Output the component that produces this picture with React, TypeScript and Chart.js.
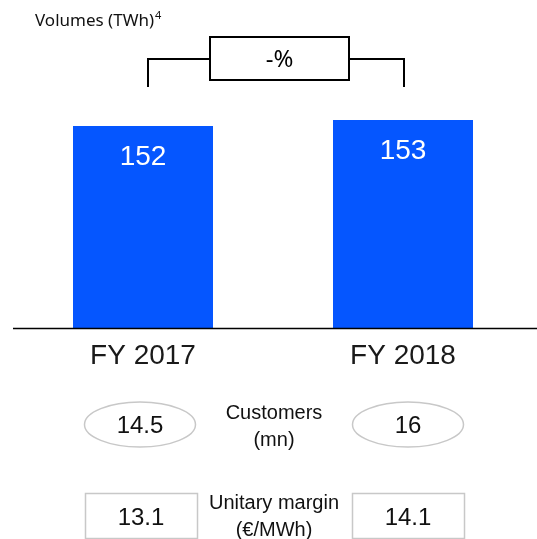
import React, { useEffect, useRef } from "react";
import { Chart, registerables } from "chart.js";

Chart.register(...registerables);

const categories = ["FY 2017", "FY 2018"];
const volumes = [152, 153];
const customers = ["14.5", "16"];
const margins = ["13.1", "14.1"];
const titleText = "Volumes (TWh)";
const titleSup = "4";
const changeLabel = "-%";
const customersLabel = ["Customers", "(mn)"];
const marginLabel = ["Unitary margin", "(€/MWh)"];

const ARIAL = '"Liberation Sans", Arial, sans-serif';
const TITLEFONT = '"Noto Sans", "Liberation Sans", sans-serif';

const overlayPlugin = {
  id: "overlay",
  afterDatasetsDraw(chart: any) {
    const ctx = chart.ctx;
    const xs = chart.scales.x;
    const meta = chart.getDatasetMeta(0);
    const c0 = xs.getPixelForValue(0);
    const c1 = xs.getPixelForValue(1);
    const base = chart.chartArea.bottom;
    ctx.save();

    // value labels inside bars
    ctx.fillStyle = "#ffffff";
    ctx.font = `28px ${ARIAL}`;
    ctx.textAlign = "center";
    ctx.textBaseline = "middle";
    meta.data.forEach((bar: any, i: number) => {
      ctx.fillText(String(volumes[i]), bar.x, bar.y + 31);
    });

    // axis line
    ctx.strokeStyle = "#000000";
    ctx.lineWidth = 1.5;
    ctx.beginPath();
    ctx.moveTo(13, base + 0.5);
    ctx.lineTo(537, base + 0.5);
    ctx.stroke();

    // category labels
    ctx.fillStyle = "#1a1a1a";
    ctx.font = `28px ${ARIAL}`;
    categories.forEach((c, i) => {
      ctx.fillText(c, xs.getPixelForValue(i), base + 28);
    });

    // title
    ctx.fillStyle = "#111111";
    ctx.textAlign = "left";
    ctx.font = `17px ${TITLEFONT}`;
    ctx.fillText(titleText, 35, 21);
    const tw = ctx.measureText(titleText).width;
    ctx.font = `11px ${TITLEFONT}`;
    ctx.fillText(titleSup, 35 + tw + 1, 16);

    // bracket
    const lx = c0 + 5;
    const rx = c1 + 1;
    const bx0 = 210, bx1 = 349, by0 = 37, by1 = 80;
    const hy = 59;
    ctx.strokeStyle = "#000000";
    ctx.lineWidth = 2;
    ctx.beginPath();
    ctx.moveTo(lx, 87);
    ctx.lineTo(lx, hy);
    ctx.lineTo(bx0, hy);
    ctx.moveTo(bx1, hy);
    ctx.lineTo(rx, hy);
    ctx.lineTo(rx, 87);
    ctx.stroke();
    ctx.fillStyle = "#ffffff";
    ctx.fillRect(bx0, by0, bx1 - bx0, by1 - by0);
    ctx.strokeRect(bx0, by0, bx1 - bx0, by1 - by0);
    ctx.fillStyle = "#000000";
    ctx.textAlign = "center";
    ctx.font = `24px ${TITLEFONT}`;
    ctx.fillText(changeLabel, (bx0 + bx1) / 2, 60);

    // customers ellipses
    const ecx = [c0 - 3, c1 + 5];
    ctx.strokeStyle = "#c8c8c8";
    ctx.lineWidth = 1.5;
    ecx.forEach((cx, i) => {
      ctx.beginPath();
      ctx.ellipse(cx, 424.5, 55.5, 22.5, 0, 0, Math.PI * 2);
      ctx.stroke();
      ctx.fillStyle = "#111111";
      ctx.font = `24px ${ARIAL}`;
      ctx.fillText(customers[i], cx, 426);
    });
    ctx.font = `20px ${ARIAL}`;
    ctx.fillText(customersLabel[0], 274, 413);
    ctx.fillText(customersLabel[1], 274, 440);

    // margin boxes
    const mbx = [[85, 197], [352, 464]];
    mbx.forEach(([x0, x1], i) => {
      ctx.strokeStyle = "#c8c8c8";
      ctx.strokeRect(x0 + 0.5, 493.5, x1 - x0, 45);
      ctx.fillStyle = "#111111";
      ctx.font = `24px ${ARIAL}`;
      ctx.fillText(margins[i], (x0 + x1) / 2, 518);
    });
    ctx.font = `20px ${ARIAL}`;
    ctx.fillText(marginLabel[0], 274, 503);
    ctx.fillText(marginLabel[1], 274, 530);

    ctx.restore();
  },
};

export default function App() {
  const ref = useRef<HTMLCanvasElement | null>(null);
  useEffect(() => {
    if (!ref.current) return;
    const chart = new Chart(ref.current, {
      type: "bar",
      data: {
        labels: categories,
        datasets: [
          {
            data: volumes,
            backgroundColor: "#0556FF",
            borderWidth: 0,
            barPercentage: 1,
            categoryPercentage: 140 / 260,
          },
        ],
      },
      options: {
        responsive: false,
        animation: false,
        layout: { padding: { left: 13, right: 4, top: 28, bottom: 211 } },
        plugins: { legend: { display: false }, tooltip: { enabled: false }, title: { display: false } },
        scales: {
          x: { display: false },
          y: { display: false, min: 118.333, max: 168.333 },
        },
      },
      plugins: [overlayPlugin],
    });
    return () => chart.destroy();
  }, []);
  return (
    <div style={{ position: "absolute", left: 0, top: 0, width: 537, height: 539, background: "#fff" }}>
      <canvas ref={ref} width={537} height={539} style={{ display: "block" }} />
    </div>
  );
}
